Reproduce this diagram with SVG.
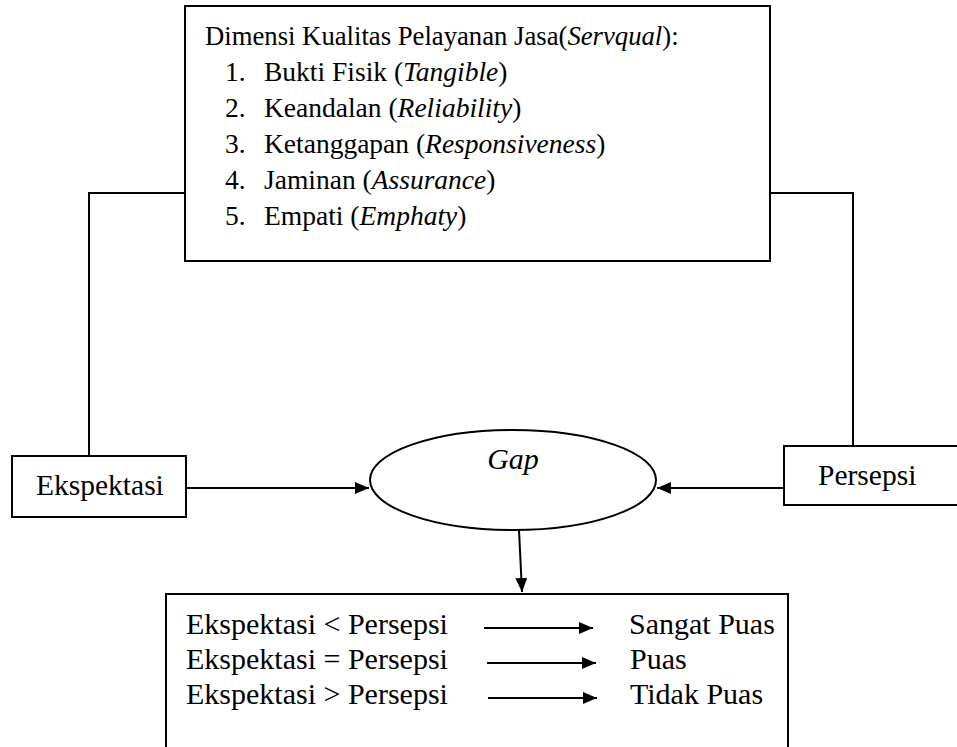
<svg xmlns="http://www.w3.org/2000/svg" width="957" height="747" viewBox="0 0 957 747" font-family="'Liberation Serif', 'Times New Roman', 'DejaVu Serif', serif">
<style>
text{font-family:'Liberation Serif','Times New Roman','DejaVu Serif',serif;font-size:29.5px;fill:#000}
.h{font-size:26.7px}
.t{font-size:27.5px}
.b{font-size:30px}
.i{font-style:italic}
.box{fill:#fff;stroke:#000;stroke-width:2}
.ln{fill:none;stroke:#000;stroke-width:2}
</style>
<defs>
<marker id="ah2" markerWidth="14" markerHeight="12" refX="14" refY="6" orient="auto" markerUnits="userSpaceOnUse" viewBox="0 0 14 12">
<path d="M0,0 L14,6 L0,12 z" fill="#000"/>
</marker>
</defs>
<g id="connectors">
<polyline class="ln" points="185,193 89,193 89,456"/>
<polyline class="ln" points="768,193 853,193 853,446"/>
<line class="ln" x1="186" y1="488" x2="369" y2="488" marker-end="url(#ah2)"/>
<line class="ln" x1="784" y1="488" x2="657" y2="488" marker-end="url(#ah2)"/>
<line class="ln" x1="519" y1="530" x2="522" y2="592" marker-end="url(#ah2)"/>
</g>
<g id="servqual">
<rect class="box" x="185" y="6" width="585" height="255"/>
<text class="h" x="205" y="45">Dimensi Kualitas Pelayanan Jasa(<tspan class="i">Servqual</tspan>):</text>
<text class="t" x="225" y="81">1.</text><text class="t" x="264" y="81">Bukti Fisik (<tspan class="i">Tangible</tspan>)</text>
<text class="t" x="225" y="117">2.</text><text class="t" x="264" y="117">Keandalan (<tspan class="i">Reliability</tspan>)</text>
<text class="t" x="225" y="153">3.</text><text class="t" x="264" y="153">Ketanggapan (<tspan class="i">Responsiveness</tspan>)</text>
<text class="t" x="225" y="189">4.</text><text class="t" x="264" y="189">Jaminan (<tspan class="i">Assurance</tspan>)</text>
<text class="t" x="225" y="225">5.</text><text class="t" x="264" y="225">Empati (<tspan class="i">Emphaty</tspan>)</text>
</g>
<g id="ekspektasi">
<rect class="box" x="12" y="456" width="174" height="61"/>
<text x="36" y="495">Ekspektasi</text>
</g>
<g id="persepsi">
<rect class="box" x="784" y="446" width="180" height="59"/>
<text x="818" y="485">Persepsi</text>
</g>
<g id="gap">
<ellipse class="box" cx="513" cy="480" rx="143" ry="50"/>
<text class="i" x="513" y="469" text-anchor="middle" style="font-size:30px">Gap</text>
</g>
<g id="hasil">
<rect class="box" x="166" y="594" width="622" height="170"/>
<text class="b" x="186" y="634">Ekspektasi &lt; Persepsi</text>
<text class="b" x="186" y="669">Ekspektasi = Persepsi</text>
<text class="b" x="186" y="704">Ekspektasi &gt; Persepsi</text>
<line class="ln" x1="484" y1="628" x2="593" y2="628" marker-end="url(#ah2)"/>
<line class="ln" x1="487" y1="663" x2="596" y2="663" marker-end="url(#ah2)"/>
<line class="ln" x1="488" y1="698" x2="597" y2="698" marker-end="url(#ah2)"/>
<text class="b" x="629" y="634">Sangat Puas</text>
<text class="b" x="630" y="669">Puas</text>
<text class="b" x="630" y="704">Tidak Puas</text>
</g>
</svg>
